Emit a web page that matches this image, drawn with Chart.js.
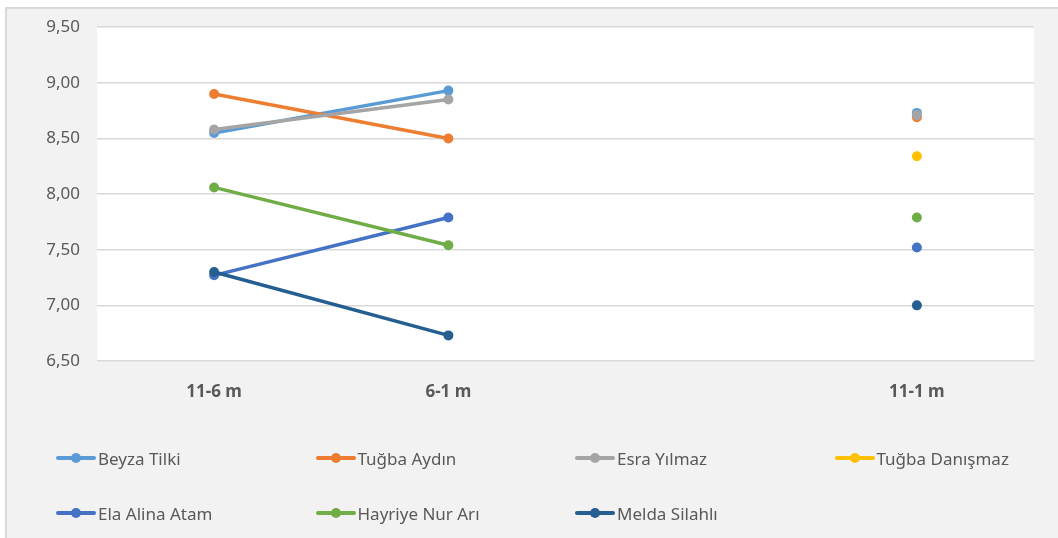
<!DOCTYPE html>
<html lang="tr">
<head>
<meta charset="UTF-8">
<title>Grafik</title>
<style>
    html, body { margin: 0; padding: 0; background: #fff; overflow: hidden; }
    .cerceve {
        position: absolute; left: 5px; top: 7px; width: 1100px; height: 600px;
        background: #f2f2f2; border-left: 2px solid #d9d9d9; border-top: 2px solid #d9d9d9;
    }
    .kutu { position: absolute; left: 0; top: 0; width: 1058px; height: 538px; }
    #lejant { position: absolute; left: 0; top: 0; width: 1058px; height: 538px; pointer-events: none; }
    .oge {
        position: absolute; display: flex; align-items: center; height: 24px;
        font-family: "Noto Sans", sans-serif; font-size: 17px; color: #595959; white-space: nowrap;
    }
    .isaret { position: relative; width: 40px; height: 24px; margin-right: 2px; }
    .isaret .cizgi { position: absolute; left: 0; top: 10px; width: 40px; height: 4px; border-radius: 2px; }
    .isaret .nokta { position: absolute; left: 15px; top: 7px; width: 10px; height: 10px; border-radius: 50%; }
</style>
</head>
<body>
<div class="cerceve"></div>
<div class="kutu"><canvas id="grafik"></canvas></div>
<div id="lejant"></div>

<script src="https://cdn.jsdelivr.net/npm/chart.js"></script>
<script>
    const kategoriler = ['11-6 m', '6-1 m', '', '11-1 m']

    const beyzaTilki     = [8.55, 8.93, null, 8.73]
    const tugbaAydin     = [8.90, 8.50, null, 8.69]
    const esraYilmaz     = [8.58, 8.85, null, 8.71]
    const tugbaDanismaz  = [null, null, null, 8.34]
    const elaAlinaAtam   = [7.27, 7.79, null, 7.52]
    const hayriyeNurAri  = [8.06, 7.54, null, 7.79]
    const meldaSilahli   = [7.30, 6.73, null, 7.00]

    const seriler = [
        { ad: 'Beyza Tilki', veri: beyzaTilki, renk: '#5B9BD5' },
        { ad: 'Tuğba Aydın', veri: tugbaAydin, renk: '#ED7D31' },
        { ad: 'Esra Yılmaz', veri: esraYilmaz, renk: '#A5A5A5' },
        { ad: 'Tuğba Danışmaz', veri: tugbaDanismaz, renk: '#FFC000' },
        { ad: 'Ela Alina Atam', veri: elaAlinaAtam, renk: '#4472C4' },
        { ad: 'Hayriye Nur Arı', veri: hayriyeNurAri, renk: '#70AD47' },
        { ad: 'Melda Silahlı', veri: meldaSilahli, renk: '#255E91' }
    ]

    const yMin = 6.5
    const yMax = 9.5
    const yAdim = 0.5

    // beyaz çizim alanı
    const alanArkaPlan = {
        id: 'alanArkaPlan',
        beforeDraw(chart) {
            const { ctx, chartArea: a } = chart
            ctx.save()
            ctx.fillStyle = '#ffffff'
            ctx.fillRect(a.left, a.top, a.right - a.left, a.bottom - a.top)
            ctx.restore()
        }
    }

    const ctx = document.getElementById('grafik')
    new Chart(ctx, {
        type: 'line',
        data: {
            labels: kategoriler,
            datasets: seriler.map((s, i) => ({
                label: s.ad,
                data: s.veri,
                borderColor: s.renk,
                backgroundColor: s.renk,
                borderWidth: 3.5,
                pointRadius: 5,
                pointHoverRadius: 5,
                pointBorderWidth: 0,
                borderCapStyle: 'round',
                spanGaps: false,
                order: seriler.length - i
            }))
        },
        options: {
            responsive: true,
            maintainAspectRatio: false,
            animation: false,
            events: [],
            layout: { padding: { top: 27, right: 24, left: 0, bottom: 0 } },
            plugins: {
                legend: { display: false },
                tooltip: { enabled: false }
            },
            scales: {
                x: {
                    offset: true,
                    grid: { display: false, drawTicks: false },
                    border: { display: false },
                    ticks: {
                        color: '#595959',
                        padding: 21,
                        font: { family: 'Noto Sans', size: 17, weight: 'bold' }
                    },
                    afterFit(scale) { scale.height = 177 }
                },
                y: {
                    min: yMin,
                    max: yMax,
                    grid: { color: '#d9d9d9', lineWidth: 1.5, drawTicks: false },
                    border: { display: false },
                    ticks: {
                        stepSize: yAdim,
                        color: '#595959',
                        padding: 17,
                        font: { family: 'Noto Sans', size: 17 },
                        callback: v => v.toFixed(2).replace('.', ',')
                    },
                    afterFit(scale) { scale.width = 97 }
                }
            }
        },
        plugins: [alanArkaPlan]
    })

    // lejant: 4 sütun, 2 satır
    const lejant = document.getElementById('lejant')
    seriler.forEach((s, i) => {
        const sutun = i % 4
        const satir = Math.floor(i / 4)
        const oge = document.createElement('div')
        oge.className = 'oge'
        oge.style.left = (56 + sutun * 259.5) + 'px'
        oge.style.top = (446 + satir * 55) + 'px'
        oge.innerHTML = '<span class="isaret"><span class="cizgi" style="background:' + s.renk +
            '"></span><span class="nokta" style="background:' + s.renk + '"></span></span>' + s.ad
        lejant.appendChild(oge)
    })
</script>
</body>
</html>
